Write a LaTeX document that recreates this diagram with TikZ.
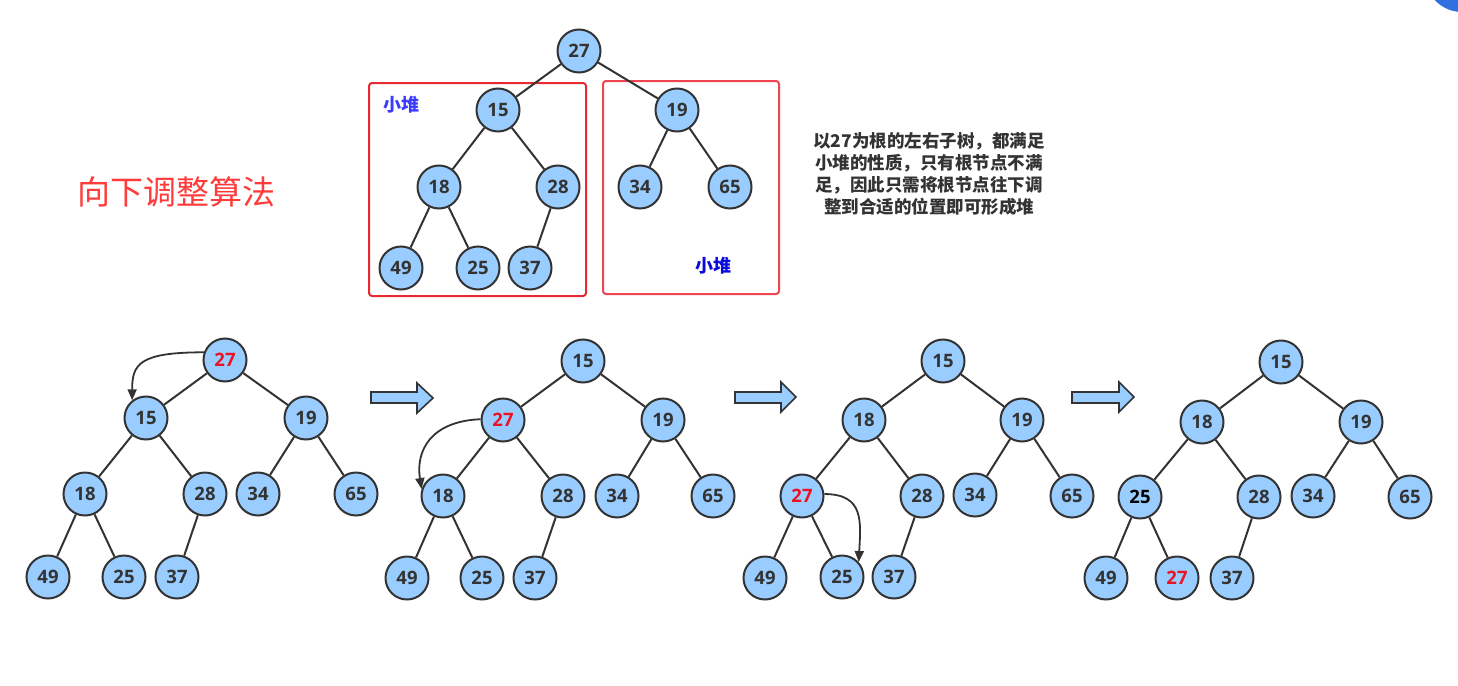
\documentclass[tikz,border=0pt]{standalone}
\usepackage{fontspec}
\newfontfamily\cjk{Noto Sans CJK SC}
\newfontfamily\numfont{Open Sans}
\usetikzlibrary{arrows.meta}
\definecolor{nodeblue}{HTML}{99CCFF}
\definecolor{linegray}{HTML}{333333}
\definecolor{numred}{HTML}{EE1122}
\definecolor{titlered}{HTML}{FF3B3B}
\definecolor{boxred}{HTML}{E62A30}
\definecolor{boxredb}{HTML}{EE4450}
\definecolor{lblblue}{HTML}{3C3CFF}
\definecolor{lblblueb}{HTML}{0A0ADD}
\definecolor{blobblue}{HTML}{2F6FE0}
\tikzset{
  hnode/.style={circle, draw=linegray, line width=2pt, fill=nodeblue, minimum size=43pt, inner sep=0pt,
    font=\numfont\bfseries\fontsize{18.5}{20}\selectfont, text=linegray},
  hot/.style={text=numred},
  edge/.style={draw=linegray, line width=2pt},
  swaparrow/.style={draw=linegray, line width=1.8pt, -{Triangle[length=11pt,width=9pt]}},
  blockarrow/.style={draw=linegray, line width=1.6pt, fill=nodeblue, line join=miter},
  redbox/.style={line width=2pt, rounded corners=3pt},
  cjklbl/.style={font=\cjk\bfseries\fontsize{18}{20}\selectfont}
}
\newcommand\treeedges[1]{%
  \foreach \p/\c in {a/b,a/c,b/d,b/e,c/f,c/g,d/h,d/i,e/j}
    \draw[edge] (#1\p) -- (#1\c);}
\begin{document}
\begin{tikzpicture}[x=1pt,y=-1pt]
\useasboundingbox (0,0) rectangle (1458,685);
\fill[white] (0,0) rectangle (1458,685);
\fill[blobblue] (1462,-25) circle (37);

% title
\node[font=\cjk\fontsize{33}{36}\selectfont, text=titlered] (title) at (176,192) {向下调整算法};

% red boxes
\draw[redbox, draw=boxred] (369,83) rectangle (586,296);
\draw[redbox, draw=boxredb] (603,81) rectangle (779,294);
\node[cjklbl, text=lblblue] (lblA) at (401,105) {小堆};
\node[cjklbl, text=lblblueb] (lblB) at (713,266) {小堆};

% explanation text
\node[font=\cjk\bfseries\fontsize{17.5}{21.7}\selectfont, text=linegray, align=center] (expl) at (929,174)
  {以27为根的左右子树，都满足\\小堆的性质，只有根节点不满\\足，因此只需将根节点往下调\\整到合适的位置即可形成堆};

% top tree
\node[hnode] (t0a) at (579,51) {27};
\node[hnode] (t0b) at (498,110) {15};
\node[hnode] (t0c) at (677,110) {19};
\node[hnode] (t0d) at (439,187) {18};
\node[hnode] (t0e) at (558,187) {28};
\node[hnode] (t0f) at (640,187) {34};
\node[hnode] (t0g) at (730,187) {65};
\node[hnode] (t0h) at (401,268) {49};
\node[hnode] (t0i) at (478,268) {25};
\node[hnode] (t0j) at (530,268) {37};
\treeedges{t0}

% tree 1
\node[hnode,hot] (t1a) at (225,360) {27};
\node[hnode] (t1b) at (146,418) {15};
\node[hnode] (t1c) at (306,418) {19};
\node[hnode] (t1d) at (85,494) {18};
\node[hnode] (t1e) at (205,494) {28};
\node[hnode] (t1f) at (258,494) {34};
\node[hnode] (t1g) at (356,494) {65};
\node[hnode] (t1h) at (48,577) {49};
\node[hnode] (t1i) at (124,577) {25};
\node[hnode] (t1j) at (177,577) {37};
\treeedges{t1}
\draw[swaparrow] (t1a.160) .. controls +(-65,0) and +(0,-36) .. (t1b.128);

% tree 2
\node[hnode] (t2a) at (583,361) {15};
\node[hnode,hot] (t2b) at (503,420) {27};
\node[hnode] (t2c) at (663,420) {19};
\node[hnode] (t2d) at (443,496) {18};
\node[hnode] (t2e) at (563,496) {28};
\node[hnode] (t2f) at (617,496) {34};
\node[hnode] (t2g) at (713,496) {65};
\node[hnode] (t2h) at (407,578) {49};
\node[hnode] (t2i) at (482,578) {25};
\node[hnode] (t2j) at (535,578) {37};
\treeedges{t2}
\draw[swaparrow] (t2b.178) .. controls +(-50,2) and +(-6,-38) .. (t2d.162);

% tree 3
\node[hnode] (t3a) at (943,361) {15};
\node[hnode] (t3b) at (864,420) {18};
\node[hnode] (t3c) at (1022,420) {19};
\node[hnode,hot] (t3d) at (802,496) {27};
\node[hnode] (t3e) at (922,496) {28};
\node[hnode] (t3f) at (975,495) {34};
\node[hnode] (t3g) at (1072,496) {65};
\node[hnode] (t3h) at (765,578) {49};
\node[hnode] (t3i) at (842,577) {25};
\node[hnode] (t3j) at (894,577) {37};
\treeedges{t3}
\draw[swaparrow] (t3d.5) .. controls +(40,0) and +(2,-40) .. (t3i.42);

% tree 4
\node[hnode] (t4a) at (1281,362) {15};
\node[hnode] (t4b) at (1202,422) {18};
\node[hnode] (t4c) at (1361,422) {19};
\node[hnode,text=black] (t4d) at (1140,497) {25};
\node[hnode] (t4e) at (1259,497) {28};
\node[hnode] (t4f) at (1313,496) {34};
\node[hnode] (t4g) at (1410,497) {65};
\node[hnode] (t4h) at (1106,578) {49};
\node[hnode,hot] (t4i) at (1177,578) {27};
\node[hnode] (t4j) at (1232,578) {37};
\treeedges{t4}

% block arrows between steps
\draw[blockarrow] (371,392) -- (417,392) -- (417,383) -- (433,398) -- (417,413) -- (417,403) -- (371,403) -- cycle;
\draw[blockarrow] (735,392) -- (781,392) -- (781,382) -- (796,397) -- (781,412) -- (781,403) -- (735,403) -- cycle;
\draw[blockarrow] (1072,392) -- (1119,392) -- (1119,382) -- (1134,397) -- (1119,412) -- (1119,403) -- (1072,403) -- cycle;
\end{tikzpicture}
\end{document}
